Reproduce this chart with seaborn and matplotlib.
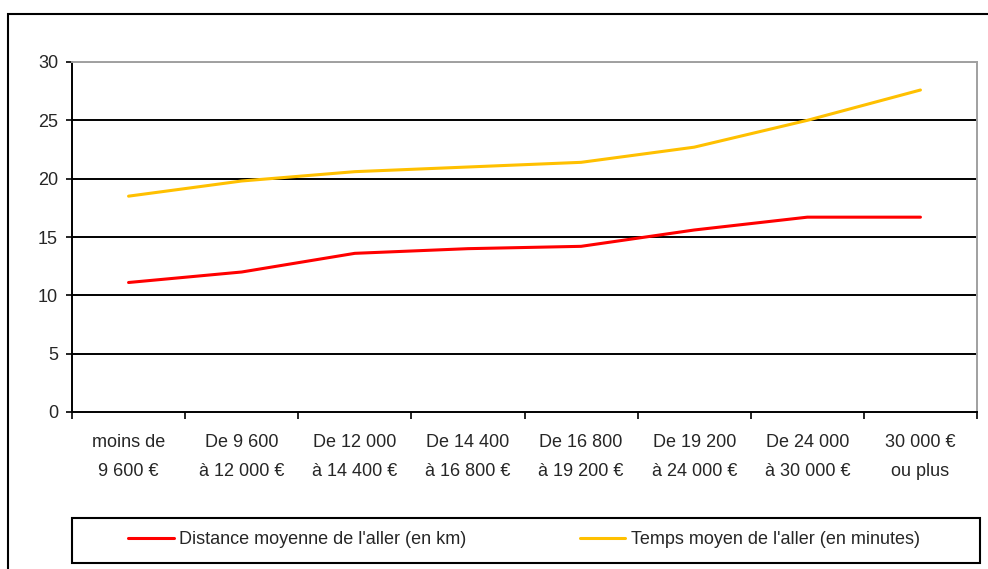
import pandas as pd
import matplotlib.pyplot as plt
import seaborn as sns
from matplotlib.patches import Rectangle

# Data
categories = ["moins de\n9 600 €", "De 9 600\nà 12 000 €", "De 12 000\nà 14 400 €",
              "De 14 400\nà 16 800 €", "De 16 800\nà 19 200 €", "De 19 200\nà 24 000 €",
              "De 24 000\nà 30 000 €", "30 000 €\nou plus"]
distance_km = [11.1, 12.0, 13.6, 14.0, 14.2, 15.6, 16.7, 16.7]
temps_min = [18.5, 19.8, 20.6, 21.0, 21.4, 22.7, 25.0, 27.6]
series_names = ["Distance moyenne de l'aller (en km)", "Temps moyen de l'aller (en minutes)"]
colors = ["#FF0000", "#FFC000"]
y_ticks = [0, 5, 10, 15, 20, 25, 30]

df = pd.DataFrame({
    "tranche": categories * 2,
    "valeur": distance_km + temps_min,
    "serie": [series_names[0]] * len(categories) + [series_names[1]] * len(categories),
})

sns.set_style("white")
plt.rcParams['font.family'] = ['Liberation Sans', 'DejaVu Sans']

fig = plt.figure(figsize=(9.88, 5.69), dpi=100)
ax = fig.add_axes([72 / 988, 1 - 412 / 569, 905 / 988, 350 / 569])

sns.lineplot(data=df, x="tranche", y="valeur", hue="serie", palette=colors,
             linewidth=2.2, ax=ax, sort=False, legend=True)

ax.set_xlim(-0.5, len(categories) - 0.5)
ax.set_ylim(0, 30)
ax.set_yticks(y_ticks)
ax.set_xticks(range(len(categories)))
ax.set_xticklabels(categories, linespacing=1.9)
ax.set_xticks([i - 0.5 for i in range(len(categories) + 1)], minor=True)
ax.set_xlabel("")
ax.set_ylabel("")

for y in y_ticks[1:-1]:
    ax.axhline(y, color="black", lw=1.4, zorder=0)
ax.axhline(30, color="#A0A0A0", lw=1.4, zorder=0)

ax.tick_params(axis="x", which="major", bottom=True, length=0, pad=16, labelsize=13)
ax.tick_params(axis="x", which="minor", bottom=True, length=5, width=1.2,
               direction="out", color="black")
ax.tick_params(axis="y", left=True, length=4, width=1.2, direction="out",
               color="black", pad=6, labelsize=13)

for side in ["left", "bottom"]:
    ax.spines[side].set_color("black")
    ax.spines[side].set_linewidth(1.4)
for side in ["top", "right"]:
    ax.spines[side].set_color("#A0A0A0")
    ax.spines[side].set_linewidth(1.4)

# Legend with a separate box
handles, labels = ax.get_legend_handles_labels()
ax.legend(handles, labels, loc="center", bbox_to_anchor=(524 / 988, 1 - 540 / 569),
          bbox_transform=fig.transFigure, ncol=2, frameon=False, fontsize=13,
          handlelength=2.5, columnspacing=6.3, handletextpad=0.3)
fig.patches.append(Rectangle((72 / 988, 1 - 563 / 569), 908 / 988, 45 / 569,
                             transform=fig.transFigure, fill=False, ec="black", lw=1.5))

# Outer chart frame
fig.patches.append(Rectangle((8 / 988, -0.2), 1.2, 1.2 - 14 / 569,
                             transform=fig.transFigure, fill=False, ec="black", lw=1.5))

plt.savefig("out.png", dpi=100)
plt.close()
